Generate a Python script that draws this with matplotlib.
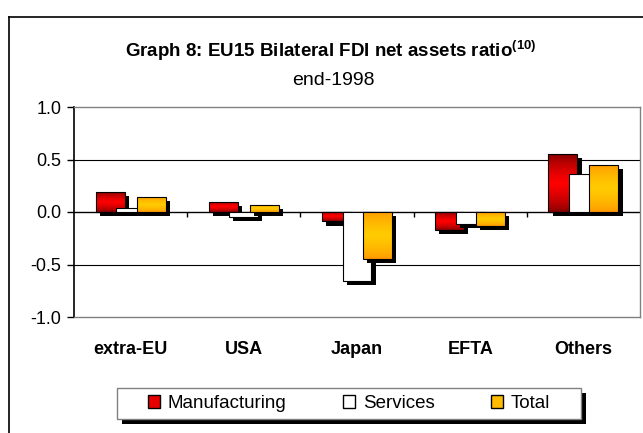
import numpy as np
import matplotlib
matplotlib.use("Agg")
import matplotlib.pyplot as plt
import matplotlib.transforms as mtransforms
from matplotlib.patches import Patch, Rectangle
from matplotlib.lines import Line2D
from matplotlib.colors import LinearSegmentedColormap

plt.rcParams['font.family'] = ['Liberation Sans', 'DejaVu Sans']
plt.rcParams['axes.unicode_minus'] = False
plt.rcParams['mathtext.fontset'] = 'custom'
plt.rcParams['mathtext.rm'] = 'Liberation Sans'
plt.rcParams['mathtext.bf'] = 'Liberation Sans:bold'

# ── Data ──
categories = ['extra-EU', 'USA', 'Japan', 'EFTA', 'Others']
manufacturing = [0.19, 0.10, -0.09, -0.17, 0.55]
services = [0.04, -0.05, -0.66, -0.11, 0.36]
total = [0.14, 0.07, -0.45, -0.13, 0.45]
series_names = ['Manufacturing', 'Services', 'Total']
y_ticks = [-1.0, -0.5, 0.0, 0.5, 1.0]

W, H = 643, 433
BAR_W = 0.256
STEP = 0.181

red_cmap = LinearSegmentedColormap.from_list('red', ['#7a0000', '#ff0000'])
gold_cmap = LinearSegmentedColormap.from_list('gold', ['#ff9400', '#ffcc00'])

fig = plt.figure(figsize=(W / 100, H / 100), dpi=100)
ax = fig.add_axes([74 / W, 1 - 317 / H, 566 / W, 210 / H])

x = np.arange(len(categories))
grad = (1 - np.abs(np.linspace(-1, 1, 64)))[:, None] ** 0.6

# black drop shadow shifted ~4 px right and down
shadow_tf = ax.transData + mtransforms.ScaledTranslation(3 / 72, -3 / 72, fig.dpi_scale_trans)


def draw_series(vals, offset, cmap, base_z):
    shadows = ax.bar(x + offset, vals, width=BAR_W, color='black',
                     linewidth=0, zorder=base_z)
    for s in shadows:
        s.set_transform(shadow_tf)
        s.set_clip_on(False)
    face = 'white' if cmap is None else 'none'
    bars = ax.bar(x + offset, vals, width=BAR_W, facecolor=face,
                  edgecolor='black', linewidth=0.8, zorder=base_z + 2)
    if cmap is None:
        return
    for b in bars:
        x0, y0 = b.get_x(), b.get_y()
        w, h = b.get_width(), b.get_height()
        im = ax.imshow(grad, extent=[x0, x0 + w, min(y0, y0 + h), max(y0, y0 + h)],
                       origin='lower', aspect='auto', cmap=cmap,
                       interpolation='bilinear', zorder=base_z + 1)
        im.set_clip_path(b)


draw_series(manufacturing, -STEP, red_cmap, 3)
draw_series(services, 0.0, None, 6)
draw_series(total, STEP, gold_cmap, 9)

ax.set_xlim(-0.5, len(categories) - 0.5)
ax.set_ylim(-1, 1)

# gridlines and zero axis with category-boundary ticks
for yv in [0.5, -0.5]:
    ax.axhline(yv, color='black', linewidth=0.8, zorder=1)
ax.axhline(0, color='black', linewidth=1.0, zorder=2)
ax.vlines(np.arange(len(categories) - 1) + 0.5, 0, -0.045, color='black',
          linewidth=1.0, zorder=2)

ax.set_yticks(y_ticks)
ax.set_yticklabels([f'{v:.1f}' for v in y_ticks], fontsize=13)
ax.tick_params(axis='y', length=5, width=1, pad=4, direction='out')
ax.set_xticks(x)
ax.set_xticklabels(categories, fontsize=13, fontweight='bold')
ax.tick_params(axis='x', length=0, pad=17)

for side in ['top', 'right', 'bottom']:
    ax.spines[side].set_color('#808080')
    ax.spines[side].set_linewidth(1.0)
ax.spines['left'].set_color('black')
ax.spines['left'].set_linewidth(1.2)

# outer chart frame (cropped on the right and bottom)
fig.add_artist(Line2D([8.5 / W, 8.5 / W], [1 - 16.5 / H, -0.1], color='black',
                      linewidth=1.2, transform=fig.transFigure))
fig.add_artist(Line2D([8.5 / W, 1.1], [1 - 16.5 / H, 1 - 16.5 / H], color='black',
                      linewidth=1.2, transform=fig.transFigure))

# titles
fig.text(330.5 / W, 1 - 57 / H,
         r'Graph 8: EU15 Bilateral FDI net assets ratio$^{\mathbf{(10)}}$',
         ha='center', va='baseline', fontsize=13.5, fontweight='bold')
fig.text(333.5 / W, 1 - 85 / H, 'end-1998', ha='center', va='baseline', fontsize=14)

# legend box with shadow
fig.add_artist(Rectangle((122 / W, 1 - 424 / H), 464 / W, 31 / H,
                         transform=fig.transFigure, facecolor='black',
                         edgecolor='none', zorder=5))
fig.add_artist(Rectangle((117 / W, 1 - 419 / H), 464 / W, 31 / H,
                         transform=fig.transFigure, facecolor='white',
                         edgecolor='#808080', linewidth=1, zorder=6))
handles = [Patch(facecolor='#e80000', edgecolor='black'),
           Patch(facecolor='white', edgecolor='black'),
           Patch(facecolor='#ffbb00', edgecolor='black')]
leg = fig.legend(handles, series_names, loc='center', ncol=3,
                 bbox_to_anchor=(349 / W, 1 - 403.5 / H), frameon=False,
                 fontsize=13.5, handlelength=0.67, handleheight=0.67,
                 handletextpad=0.4, columnspacing=3.0)
leg.set_zorder(7)

fig.savefig('out.png', dpi=100)
